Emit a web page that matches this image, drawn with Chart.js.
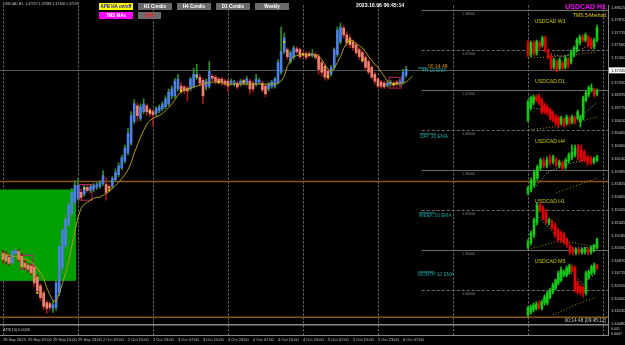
<!DOCTYPE html>
<html>
<head>
<meta charset="utf-8">
<title>USDCAD H1</title>
<script src="https://cdn.jsdelivr.net/npm/chart.js@4.4.0/dist/chart.umd.min.js"></script>
<style>
  html, body { margin: 0; padding: 0; background: #000; }
  #wrap { position: relative; width: 625px; height: 345px; overflow: hidden; background: #000; }
  #wrap canvas { position: absolute; }
</style>
</head>
<body>
<div id="wrap">
  <canvas id="main" width="625" height="345" style="left:0;top:0"></canvas>
</div>
<script>
// H1 candles, 28 Sep 23:00 -> 6 Oct 06:00
var opens = [1.34963, 1.34938, 1.34914, 1.34840, 1.34963, 1.34987, 1.34926, 1.34840, 1.34816, 1.34803,
  1.34791, 1.34668, 1.34558, 1.34472, 1.34349, 1.34337, 1.34276, 1.34288, 1.34472, 1.34779,
  1.35049, 1.35319, 1.35454, 1.35601, 1.35650, 1.35724, 1.35699, 1.35785, 1.35748, 1.35761,
  1.35785, 1.35797, 1.35834, 1.35822, 1.35797, 1.35797, 1.35883, 1.35945, 1.36030, 1.36116,
  1.36214, 1.36337, 1.36607, 1.36803, 1.36644, 1.36730, 1.36803, 1.36754, 1.36730, 1.36705,
  1.36742, 1.36767, 1.36791, 1.36828, 1.36926, 1.36926, 1.37012, 1.37049, 1.37037, 1.37024,
  1.37012, 1.37049, 1.37159, 1.37159, 1.37122, 1.37037, 1.37049, 1.37172, 1.37159, 1.37135,
  1.37135, 1.37110, 1.37110, 1.37086, 1.37073, 1.37086, 1.37073, 1.37110, 1.37086, 1.37110,
  1.37086, 1.37073, 1.37098, 1.37086, 1.37049, 1.37012, 1.37049, 1.37049, 1.37098, 1.37221,
  1.37478, 1.37503, 1.37356, 1.37405, 1.37515, 1.37503, 1.37454, 1.37454, 1.37454, 1.37429,
  1.37441, 1.37417, 1.37343, 1.37294, 1.37233, 1.37196, 1.37282, 1.37441, 1.37601, 1.37773,
  1.37687, 1.37650, 1.37601, 1.37564, 1.37503, 1.37466, 1.37405, 1.37356, 1.37282, 1.37196,
  1.37135, 1.37098, 1.37086, 1.37061, 1.37073, 1.37086, 1.37098, 1.37073, 1.37098, 1.37184];
var highs = [1.35000, 1.34987, 1.34951, 1.35049, 1.35037, 1.35012, 1.34963, 1.34889, 1.34840, 1.34828,
  1.34816, 1.34693, 1.34583, 1.34497, 1.34374, 1.34362, 1.34374, 1.34644, 1.35110, 1.35294,
  1.35454, 1.35626, 1.35773, 1.35871, 1.35895, 1.35761, 1.35810, 1.35810, 1.35822, 1.35834,
  1.35846, 1.35871, 1.35994, 1.35908, 1.35822, 1.35920, 1.36018, 1.36092, 1.36190, 1.36313,
  1.36521, 1.36730, 1.36877, 1.36840, 1.36828, 1.36889, 1.36828, 1.36779, 1.36754, 1.36791,
  1.36816, 1.36853, 1.36926, 1.37012, 1.37049, 1.37147, 1.37196, 1.37098, 1.37061, 1.37049,
  1.37159, 1.37270, 1.37319, 1.37196, 1.37147, 1.37135, 1.37356, 1.37196, 1.37184, 1.37159,
  1.37159, 1.37135, 1.37135, 1.37135, 1.37122, 1.37110, 1.37135, 1.37135, 1.37172, 1.37135,
  1.37110, 1.37196, 1.37147, 1.37110, 1.37073, 1.37098, 1.37122, 1.37159, 1.37380, 1.37785,
  1.37711, 1.37527, 1.37491, 1.37552, 1.37540, 1.37527, 1.37478, 1.37478, 1.37478, 1.37503,
  1.37466, 1.37441, 1.37368, 1.37319, 1.37257, 1.37307, 1.37527, 1.37785, 1.37834, 1.37810,
  1.37724, 1.37687, 1.37626, 1.37589, 1.37527, 1.37491, 1.37429, 1.37380, 1.37307, 1.37221,
  1.37159, 1.37122, 1.37110, 1.37110, 1.37122, 1.37110, 1.37122, 1.37135, 1.37257, 1.37294];
var lows = [1.34840, 1.34828, 1.34816, 1.34816, 1.34938, 1.34865, 1.34791, 1.34767, 1.34730, 1.34693,
  1.34546, 1.34460, 1.34374, 1.34264, 1.34214, 1.34251, 1.34227, 1.34251, 1.34435, 1.34742,
  1.35012, 1.35282, 1.35417, 1.35564, 1.35626, 1.35626, 1.35675, 1.35724, 1.35724, 1.35736,
  1.35761, 1.35773, 1.35810, 1.35626, 1.35748, 1.35773, 1.35859, 1.35920, 1.36006, 1.36092,
  1.36190, 1.36313, 1.36583, 1.36607, 1.36619, 1.36705, 1.36681, 1.36668, 1.36546, 1.36681,
  1.36718, 1.36742, 1.36767, 1.36803, 1.36889, 1.36902, 1.36988, 1.36963, 1.36951, 1.36865,
  1.36988, 1.37024, 1.37135, 1.37049, 1.36828, 1.37000, 1.37024, 1.37110, 1.37073, 1.37073,
  1.37061, 1.37049, 1.36975, 1.37061, 1.37049, 1.37012, 1.37049, 1.37061, 1.37061, 1.36951,
  1.36975, 1.37049, 1.37073, 1.36975, 1.36914, 1.36988, 1.37024, 1.37024, 1.37073, 1.37196,
  1.37454, 1.37380, 1.37331, 1.37380, 1.37454, 1.37392, 1.37417, 1.37380, 1.37405, 1.37405,
  1.37380, 1.37196, 1.37172, 1.37122, 1.37122, 1.37172, 1.37257, 1.37417, 1.37576, 1.37650,
  1.37552, 1.37527, 1.37491, 1.37441, 1.37380, 1.37343, 1.37245, 1.37196, 1.37135, 1.37073,
  1.37024, 1.37024, 1.37012, 1.37037, 1.37049, 1.37037, 1.37049, 1.37049, 1.37073, 1.37159];
var closes = [1.34889, 1.34865, 1.34840, 1.34987, 1.35000, 1.34889, 1.34816, 1.34791, 1.34767, 1.34718,
  1.34595, 1.34497, 1.34411, 1.34300, 1.34276, 1.34288, 1.34325, 1.34595, 1.35049, 1.35257,
  1.35392, 1.35564, 1.35724, 1.35810, 1.35810, 1.35662, 1.35785, 1.35748, 1.35797, 1.35810,
  1.35822, 1.35846, 1.35932, 1.35724, 1.35773, 1.35895, 1.35969, 1.36055, 1.36153, 1.36276,
  1.36460, 1.36681, 1.36828, 1.36681, 1.36791, 1.36828, 1.36730, 1.36705, 1.36693, 1.36767,
  1.36791, 1.36828, 1.36889, 1.36975, 1.37012, 1.37110, 1.37135, 1.36988, 1.36988, 1.36988,
  1.37135, 1.37196, 1.37196, 1.37086, 1.36926, 1.37110, 1.37233, 1.37147, 1.37110, 1.37098,
  1.37098, 1.37073, 1.37049, 1.37110, 1.37098, 1.37037, 1.37110, 1.37086, 1.37135, 1.37012,
  1.37012, 1.37135, 1.37122, 1.37000, 1.36951, 1.37073, 1.37098, 1.37135, 1.37343, 1.37478,
  1.37650, 1.37417, 1.37466, 1.37527, 1.37478, 1.37417, 1.37441, 1.37405, 1.37429, 1.37454,
  1.37405, 1.37257, 1.37221, 1.37159, 1.37159, 1.37282, 1.37503, 1.37748, 1.37785, 1.37687,
  1.37589, 1.37564, 1.37527, 1.37466, 1.37417, 1.37368, 1.37282, 1.37221, 1.37159, 1.37110,
  1.37049, 1.37049, 1.37037, 1.37086, 1.37098, 1.37061, 1.37073, 1.37110, 1.37221, 1.37257];

// 4H 10 EMA drawn on the H1 bars (two bars longer than the candles)
var ema = [1.34963, 1.34951, 1.34938, 1.34926, 1.34926, 1.34914, 1.34902, 1.34889, 1.34877, 1.34853,
  1.34816, 1.34779, 1.34718, 1.34644, 1.34534, 1.34448, 1.34374, 1.34362, 1.34460, 1.34583,
  1.34718, 1.34865, 1.35049, 1.35233, 1.35417, 1.35527, 1.35576, 1.35601, 1.35626, 1.35650,
  1.35662, 1.35662, 1.35687, 1.35711, 1.35736, 1.35773, 1.35810, 1.35846, 1.35895, 1.35945,
  1.36006, 1.36092, 1.36214, 1.36313, 1.36411, 1.36497, 1.36570, 1.36619, 1.36644, 1.36668,
  1.36681, 1.36705, 1.36742, 1.36779, 1.36828, 1.36877, 1.36938, 1.36975, 1.37000, 1.37012,
  1.37024, 1.37037, 1.37049, 1.37061, 1.37073, 1.37086, 1.37098, 1.37098, 1.37098, 1.37098,
  1.37086, 1.37086, 1.37073, 1.37073, 1.37073, 1.37073, 1.37073, 1.37073, 1.37073, 1.37073,
  1.37073, 1.37073, 1.37073, 1.37073, 1.37073, 1.37073, 1.37073, 1.37073, 1.37086, 1.37110,
  1.37172, 1.37294, 1.37380, 1.37417, 1.37429, 1.37441, 1.37441, 1.37441, 1.37441, 1.37441,
  1.37441, 1.37429, 1.37380, 1.37319, 1.37257, 1.37233, 1.37270, 1.37343, 1.37417, 1.37515,
  1.37589, 1.37626, 1.37613, 1.37576, 1.37552, 1.37527, 1.37478, 1.37417, 1.37368, 1.37319,
  1.37282, 1.37221, 1.37172, 1.37110, 1.37086, 1.37073, 1.37073, 1.37086, 1.37086, 1.37098,
  1.37135, 1.37172];

// bottom time labels, one every 8 bars
var timeLabels = ['28 Sep 2023', '29 Sep 07:00', '29 Sep 15:00', '29 Sep 23:00', '2 Oct 07:00', '2 Oct 15:00',
  '2 Oct 23:00', '3 Oct 07:00', '3 Oct 15:00', '3 Oct 23:00', '4 Oct 07:00', '4 Oct 15:00', '4 Oct 23:00',
  '5 Oct 07:00', '5 Oct 15:00', '5 Oct 23:00', '6 Oct 07:00'];
var priceTicks = [1.38025, 1.37870, 1.37715, 1.37560, 1.37400, 1.37090, 1.36935, 1.36775, 1.36620,
  1.36465, 1.36305, 1.36140, 1.35985, 1.35825, 1.35665, 1.35505, 1.35345, 1.35185, 1.35030, 1.34870,
  1.34715, 1.34555, 1.34400, 1.34240, 1.34080];
var bidPrice = 1.37245;

// yellow fractal dots
var dotBars = [6, 11, 26, 34, 47, 57, 62, 69, 77, 90, 96, 104, 111, 115, 125];
var dotPrices = [1.34803, 1.34472, 1.35773, 1.35748, 1.36730, 1.36988, 1.37172, 1.37098, 1.37110,
  1.37601, 1.37441, 1.37159, 1.37601, 1.37368, 1.37073];

// magenta boxes: first bar, last bar, top, bottom
var boxes = [[6, 9, 1.34938, 1.34767], [25, 28, 1.35822, 1.35626], [124, 127, 1.37159, 1.37024]];
// green zone: from bar, to bar, top, bottom
var zone = [-1, 23.4, 1.35760, 1.34620];
var roundLevels = [1.380, 1.375, 1.370, 1.365, 1.360, 1.355, 1.350, 1.345];
var weeklyLevels = [1.35859, 1.34165];

// small multi-timeframe charts: [open, high, low, close]
var w1Bars = [[1.3547,1.3581,1.3292,1.3326],[1.3326,1.3564,1.3292,1.3530],[1.3530,1.3564,1.3326,1.3360],
  [1.3360,1.3581,1.3326,1.3547],[1.3530,1.3564,1.3411,1.3462],[1.3496,1.3649,1.3462,1.3615],
  [1.3615,1.3649,1.3377,1.3411],[1.3394,1.3428,1.3258,1.3292],[1.3292,1.3326,1.3071,1.3105],
  [1.3122,1.3275,1.3088,1.3241],[1.3207,1.3241,1.3037,1.3071],[1.3105,1.3275,1.3071,1.3241],
  [1.3190,1.3224,1.3071,1.3105],[1.3122,1.3309,1.3088,1.3275],[1.3241,1.3275,1.3105,1.3156],
  [1.3207,1.3411,1.3173,1.3377],[1.3326,1.3479,1.3292,1.3445],[1.3411,1.3615,1.3377,1.3581],
  [1.3530,1.3666,1.3496,1.3632],[1.3632,1.3666,1.3547,1.3581],[1.3581,1.3700,1.3547,1.3666],
  [1.3632,1.3666,1.3462,1.3496],[1.3581,1.3615,1.3428,1.3462],[1.3462,1.3615,1.3428,1.3581],
  [1.3581,1.3836,1.3547,1.3785]];
var d1Bars = [[1.3433,1.3653,1.3411,1.3631],[1.3565,1.3697,1.3543,1.3675],[1.3620,1.3708,1.3598,1.3686],
  [1.3686,1.3708,1.3631,1.3653],[1.3697,1.3719,1.3598,1.3620],[1.3653,1.3675,1.3499,1.3521],
  [1.3598,1.3620,1.3499,1.3521],[1.3576,1.3598,1.3488,1.3510],[1.3543,1.3565,1.3433,1.3455],
  [1.3510,1.3532,1.3411,1.3433],[1.3466,1.3488,1.3378,1.3400],[1.3455,1.3477,1.3345,1.3378],
  [1.3400,1.3477,1.3378,1.3455],[1.3433,1.3455,1.3356,1.3378],[1.3400,1.3488,1.3378,1.3466],
  [1.3455,1.3477,1.3378,1.3400],[1.3411,1.3488,1.3389,1.3466],[1.3455,1.3477,1.3389,1.3411],
  [1.3455,1.3543,1.3433,1.3521],[1.3411,1.3488,1.3356,1.3466],[1.3455,1.3697,1.3433,1.3675],
  [1.3653,1.3752,1.3631,1.3730],[1.3708,1.3807,1.3686,1.3785],[1.3763,1.3829,1.3741,1.3785],
  [1.3763,1.3785,1.3686,1.3708],[1.3719,1.3774,1.3697,1.3752]];
var h4Bars = [[1.3593,1.3621,1.3585,1.3613],[1.3605,1.3653,1.3597,1.3645],[1.3625,1.3685,1.3617,1.3677],
  [1.3653,1.3705,1.3645,1.3697],[1.3693,1.3733,1.3685,1.3725],[1.3721,1.3733,1.3693,1.3701],
  [1.3701,1.3737,1.3693,1.3725],[1.3733,1.3745,1.3705,1.3713],[1.3717,1.3745,1.3709,1.3737],
  [1.3725,1.3733,1.3697,1.3705],[1.3701,1.3725,1.3693,1.3717],[1.3713,1.3721,1.3685,1.3693],
  [1.3697,1.3733,1.3689,1.3725],[1.3721,1.3753,1.3713,1.3745],[1.3733,1.3785,1.3725,1.3757],
  [1.3745,1.3785,1.3737,1.3773],[1.3781,1.3789,1.3725,1.3733],[1.3765,1.3785,1.3717,1.3725],
  [1.3757,1.3765,1.3717,1.3725],[1.3737,1.3745,1.3705,1.3713],[1.3733,1.3741,1.3705,1.3713],
  [1.3717,1.3737,1.3709,1.3729],[1.3725,1.3745,1.3717,1.3737]];
var h1Bars = [[1.3730,1.3740,1.3728,1.3737],[1.3736,1.3751,1.3733,1.3749],[1.3746,1.3768,1.3743,1.3766],
  [1.3762,1.3788,1.3759,1.3785],[1.3785,1.3788,1.3776,1.3779],[1.3781,1.3784,1.3766,1.3768],
  [1.3776,1.3779,1.3760,1.3763],[1.3762,1.3768,1.3759,1.3766],[1.3763,1.3766,1.3753,1.3755],
  [1.3759,1.3762,1.3743,1.3746],[1.3753,1.3755,1.3737,1.3740],[1.3749,1.3751,1.3737,1.3740],
  [1.3746,1.3749,1.3734,1.3737],[1.3740,1.3742,1.3730,1.3733],[1.3732,1.3734,1.3721,1.3724],
  [1.3728,1.3730,1.3720,1.3723],[1.3723,1.3729,1.3720,1.3727],[1.3727,1.3729,1.3720,1.3723],
  [1.3723,1.3729,1.3721,1.3727],[1.3724,1.3730,1.3721,1.3728],[1.3727,1.3729,1.3720,1.3723],
  [1.3724,1.3732,1.3721,1.3729],[1.3727,1.3734,1.3724,1.3733],[1.3730,1.3742,1.3728,1.3740]];
var m5Bars = [[1.37096,1.37132,1.37088,1.37124],[1.37108,1.37136,1.37100,1.37128],[1.37116,1.37144,1.37108,1.37136],
  [1.37124,1.37148,1.37116,1.37140],[1.37144,1.37152,1.37116,1.37124],[1.37124,1.37156,1.37116,1.37148],
  [1.37144,1.37176,1.37136,1.37168],[1.37144,1.37192,1.37136,1.37184],[1.37168,1.37204,1.37160,1.37196],
  [1.37188,1.37224,1.37180,1.37216],[1.37204,1.37240,1.37196,1.37236],[1.37224,1.37272,1.37216,1.37264],
  [1.37236,1.37288,1.37228,1.37276],[1.37256,1.37276,1.37248,1.37268],[1.37256,1.37292,1.37248,1.37284],
  [1.37268,1.37300,1.37260,1.37292],[1.37288,1.37296,1.37268,1.37276],[1.37284,1.37292,1.37188,1.37196],
  [1.37224,1.37232,1.37180,1.37188],[1.37208,1.37216,1.37176,1.37188],[1.37204,1.37212,1.37168,1.37184],
  [1.37184,1.37272,1.37176,1.37264],[1.37248,1.37276,1.37240,1.37268],[1.37264,1.37296,1.37256,1.37288],
  [1.37268,1.37304,1.37260,1.37296],[1.37292,1.37300,1.37276,1.37284]];

// dotted averages on the small charts: [bar, price]
var w1Fast = [[7,1.3360],[12,1.3292],[16,1.3360],[20,1.3462],[23,1.3530]];
var w1Slow = [[0,1.3275],[7,1.3292],[15,1.3326],[24,1.3377]];
var d1Fast = [[2,1.3565],[7,1.3543],[13,1.3433],[19,1.3466],[25,1.3631]];
var d1Slow = [[0,1.3323],[12,1.3367],[25,1.3466]];
var h4Fast = [[2,1.3613],[6,1.3673],[10,1.3697],[14,1.3713],[18,1.3725],[22,1.3733]];
var h4Slow = [[9,1.3593],[22,1.3653]];
var h1Fast = [[3,1.3772],[10,1.3742],[15,1.3729],[21,1.3730],[23,1.3733]];
var h1Slow = [[0,1.3727],[9,1.3737],[15,1.3736],[23,1.3730]];
var m5Fast = [[9,1.37184],[12,1.37256],[16,1.37264],[20,1.37216],[22,1.37244],[25,1.37264]];
var m5Slow = [[9,1.37096],[17,1.37136],[25,1.37168]];

document.addEventListener("DOMContentLoaded", function() {
    var FONT = '"Liberation Sans", Arial, sans-serif';
    function font(size, bold) { return (bold ? 'bold ' : '') + size + 'px ' + FONT; }

    function txt(c, s, x, y, f, color, align) {
        c.font = f; c.fillStyle = color; c.textAlign = align || 'left'; c.textBaseline = 'middle';
        c.fillText(s, x, y);
    }

    function btn(c, x, y, w, h, bg, fg, label) {
        c.fillStyle = bg; c.fillRect(x, y, w, h);
        txt(c, label, x + w / 2, y + h / 2 + 0.5, font(4.5, true), fg, 'center');
    }

    // price axis range (main window + ATR strip below it)
    var yMax = 1.38055, yMin = 1.33945;

    var bullBody = '#4b7fe0', bearBody = '#f2806e';
    var bodies = [], wicks = [], bodyColors = [], wickColors = [];
    for (var i = 0; i < opens.length; i++) {
        var up = closes[i] >= opens[i];
        bodies.push({ x: i, y: [opens[i], closes[i]] });
        wicks.push({ x: i, y: [lows[i], highs[i]] });
        bodyColors.push(up ? bullBody : bearBody);
        wickColors.push(up ? '#2f8f2f' : '#9e1a1a');
    }
    var emaPts = ema.map(function(v, k) { return { x: k, y: v }; });
    var dots = dotBars.map(function(b, k) { return { x: b, y: dotPrices[k] }; });

    var extras = {
        id: 'extras',
        beforeDraw: function(chart) {
            var c = chart.ctx;
            c.save(); c.fillStyle = '#000'; c.fillRect(0, 0, chart.width, chart.height); c.restore();
        },
        beforeDatasetsDraw: function(chart) {
            var c = chart.ctx, xs = chart.scales.x, ys = chart.scales.y, a = chart.chartArea;
            c.save();
            // dashed vertical grid, every 24 bars
            c.strokeStyle = '#7a7a7a'; c.lineWidth = 1; c.setLineDash([2, 2]);
            for (var g = 0; g <= 192; g += 24) {
                var gx = Math.round(xs.getPixelForValue(g)) + 0.5;
                c.beginPath(); c.moveTo(gx, a.top); c.lineTo(gx, a.bottom); c.stroke();
            }
            // round number levels on the right part
            var lx = xs.getPixelForValue(134);
            roundLevels.forEach(function(p, k) {
                var py = Math.round(ys.getPixelForValue(p)) + 0.5;
                c.strokeStyle = '#6e6e6e';
                c.setLineDash(k % 2 ? [3, 2] : []);
                c.beginPath(); c.moveTo(lx, py); c.lineTo(a.right, py); c.stroke();
                c.setLineDash([]);
                txt(c, p.toFixed(5), 462, py + 3, font(3.6), '#8a8a8a');
            });
            c.setLineDash([]);
            // bid line
            var by = Math.round(ys.getPixelForValue(bidPrice)) + 0.5;
            c.strokeStyle = '#555'; c.beginPath(); c.moveTo(a.left, by); c.lineTo(a.right, by); c.stroke();
            // weekly levels
            c.strokeStyle = '#8e5612'; c.lineWidth = 1.5;
            weeklyLevels.forEach(function(p) {
                var py = ys.getPixelForValue(p);
                c.beginPath(); c.moveTo(a.left, py); c.lineTo(a.right, py); c.stroke();
            });
            // green zone
            var zx0 = xs.getPixelForValue(zone[0]), zx1 = xs.getPixelForValue(zone[1]);
            var zy0 = ys.getPixelForValue(zone[2]), zy1 = ys.getPixelForValue(zone[3]);
            c.fillStyle = '#00a000'; c.fillRect(zx0, zy0, zx1 - zx0, zy1 - zy0);
            // magenta boxes
            c.strokeStyle = '#c0206e'; c.lineWidth = 1;
            boxes.forEach(function(b) {
                var bx0 = xs.getPixelForValue(b[0]) - 1.5, bx1 = xs.getPixelForValue(b[1]) + 1.5;
                var by0 = ys.getPixelForValue(b[2]), by1 = ys.getPixelForValue(b[3]);
                c.strokeRect(bx0, by0, bx1 - bx0, by1 - by0);
            });
            // ATR window separator
            c.fillStyle = '#8a8a8a'; c.fillRect(a.left, a.bottom - 11, a.right - a.left, 1.5);
            c.restore();
        },
        afterDraw: function(chart) {
            var c = chart.ctx, ys = chart.scales.y, a = chart.chartArea;
            c.save();
            // current bid tag on the price axis
            var by = ys.getPixelForValue(bidPrice);
            c.fillStyle = '#ffffff'; c.fillRect(a.right + 1, by - 3, 16, 6);
            txt(c, bidPrice.toFixed(5), a.right + 3, by + 0.3, font(4), '#000');
            // header
            txt(c, 'USDCAD,H1  1.37257 1.37388 1.37208 1.37259', 3, 4.5, font(3.5), '#c8c8c8');
            btn(c, 99, 3, 34, 7, '#ffff00', '#1010c0', 'APB HA on/off');
            btn(c, 138, 3, 34, 7, '#6c6c6c', '#ffffff', 'H1 Condis');
            btn(c, 177, 3, 34, 7, '#6c6c6c', '#ffffff', 'H4 Condis');
            btn(c, 216, 3, 34, 7, '#6c6c6c', '#ffffff', 'D1 Condis');
            btn(c, 255, 3, 34, 7, '#6c6c6c', '#ffffff', 'Weekly');
            btn(c, 99, 12, 34, 7, '#ff00ff', '#ffffff', 'TMS MAs');
            btn(c, 138, 12, 23, 7, '#6c6c6c', '#ff2020', 'SSR');
            txt(c, '2023.10.06 06:45:14', 356, 6, font(5.2, true), '#ffffff');
            txt(c, 'USDCAD H1', 606, 7.5, font(7, true), '#ff00ff', 'right');
            txt(c, 'TMS 5-Method', 606, 15.5, font(5), '#e8d000', 'right');
            // small chart titles
            [['USDCAD W1', 22], ['USDCAD D1', 82], ['USDCAD H4', 142], ['USDCAD H1', 202], ['USDCAD M5', 262]].forEach(function(t) {
                txt(c, t[0], 550, t[1], font(5.2), '#c8c800', 'center');
            });
            // timer and average labels
            c.fillStyle = '#1aa0a0'; c.fillRect(418, 67.5, 9, 1);
            txt(c, '00:14:48', 428, 67, font(5), '#d4901c');
            txt(c, '4H 10 EMA', 422, 71, font(4.8), '#1aa0a0');
            [['DAY 10 EMA', 420, 137], ['WEEK 10 EMA', 419, 216], ['MONTH 10 EMA', 418, 275]].forEach(function(t) {
                c.fillStyle = '#1aa0a0'; c.fillRect(t[1], t[2] - 3.5, 16, 0.8);
                txt(c, t[0], t[1], t[2], font(4.8), '#1aa0a0');
            });
            txt(c, '00:14:48 [09:45:12]', 606, 321, font(4.8), '#c8c8c8', 'right');
            // ATR strip
            txt(c, 'ATR(10) 0.0008', 3, 329.5, font(3.8), '#c8c8c8');
            txt(c, '0.001', a.right + 3, 329, font(3.6), '#c8c8c8');
            txt(c, '0.0007', a.right + 3, 333.5, font(3.6), '#c8c8c8');
            c.restore();
        }
    };

    new Chart(document.getElementById('main'), {
        type: 'bar',
        data: {
            datasets: [
                { type: 'scatter', data: dots, pointStyle: 'rect', pointRadius: 1.3, backgroundColor: '#e6e600', borderWidth: 0, order: 0 },
                { type: 'line', data: emaPts, borderColor: '#b09a1c', borderWidth: 1, pointRadius: 0, tension: 0, order: 1 },
                { data: bodies, backgroundColor: bodyColors, barThickness: 2, grouped: false, borderWidth: 0, order: 2 },
                { data: wicks, backgroundColor: wickColors, barThickness: 1, grouped: false, borderWidth: 0, order: 3 }
            ]
        },
        options: {
            responsive: false,
            animation: false,
            devicePixelRatio: 1,
            layout: { padding: 0, autoPadding: false },
            plugins: { legend: { display: false }, tooltip: { enabled: false } },
            scales: {
                x: {
                    type: 'linear', min: -0.96, max: 193.6, offset: false,
                    grid: { display: false, drawTicks: false, tickLength: 0 },
                    border: { display: true, color: '#8c8c8c' },
                    afterBuildTicks: function(s) { s.ticks = timeLabels.map(function(l, k) { return { value: k * 8 }; }); },
                    afterFit: function(s) { s.height = 10; },
                    ticks: {
                        autoSkip: false, maxRotation: 0, minRotation: 0, align: 'start', padding: 2,
                        color: '#c8c8c8', font: { size: 4, family: 'Liberation Sans' },
                        callback: function(v) { return timeLabels[Math.round(v / 8)]; }
                    }
                },
                y: {
                    position: 'right', min: yMin, max: yMax,
                    grid: { display: false, drawTicks: false, tickLength: 0 },
                    border: { display: true, color: '#8c8c8c' },
                    afterBuildTicks: function(s) { s.ticks = priceTicks.map(function(v) { return { value: v }; }); },
                    afterFit: function(s) { s.width = 17; },
                    ticks: {
                        autoSkip: false, padding: 3, color: '#c8c8c8', font: { size: 4, family: 'Liberation Sans' },
                        callback: function(v) { return Number(v).toFixed(5); }
                    }
                }
            }
        },
        plugins: [extras]
    });

    // small multi-timeframe charts on the right
    var miniFrames = [
        ['W1', 22, 52, 1.3887, 1.3003, w1Bars, w1Fast, w1Slow],
        ['D1', 82, 52, 1.3851, 1.3279, d1Bars, d1Fast, d1Slow],
        ['H4', 142, 56, 1.3797, 1.3573, h4Bars, h4Fast, h4Slow],
        ['H1', 200, 58, 1.37915, 1.37161, h1Bars, h1Fast, h1Slow],
        ['M5', 260, 60, 1.37316, 1.37076, m5Bars, m5Fast, m5Slow]
    ];
    var wrap = document.getElementById('wrap');
    miniFrames.forEach(function(f) {
        var cv = document.createElement('canvas');
        cv.width = 78; cv.height = f[2];
        cv.style.left = '524px'; cv.style.top = f[1] + 'px';
        wrap.appendChild(cv);
        var bars = f[5];
        var step = 69 / (bars.length - 1);
        var xMin = -4 / step;
        var colors = bars.map(function(b) { return b[3] >= b[0] ? '#18c818' : '#e00000'; });
        new Chart(cv, {
            type: 'bar',
            data: {
                datasets: [
                    { type: 'line', data: f[6].map(function(p) { return { x: p[0], y: p[1] }; }), borderColor: '#bdbdbd', borderWidth: 1, borderDash: [1, 2], pointRadius: 0, order: 2 },
                    { type: 'line', data: f[7].map(function(p) { return { x: p[0], y: p[1] }; }), borderColor: '#a88e14', borderWidth: 1, borderDash: [1, 2], pointRadius: 0, order: 3 },
                    { data: bars.map(function(b, k) { return { x: k, y: [b[0], b[3]] }; }), backgroundColor: colors, barThickness: 2, grouped: false, borderWidth: 0, order: 0 },
                    { data: bars.map(function(b, k) { return { x: k, y: [b[2], b[1]] }; }), backgroundColor: colors, barThickness: 1, grouped: false, borderWidth: 0, order: 1 }
                ]
            },
            options: {
                responsive: false, animation: false, devicePixelRatio: 1,
                layout: { padding: 0, autoPadding: false },
                plugins: { legend: { display: false }, tooltip: { enabled: false } },
                scales: {
                    x: { type: 'linear', display: false, offset: false, min: xMin, max: xMin + 78 / step },
                    y: { display: false, min: f[4], max: f[3] }
                }
            }
        });
    });
});
</script>
</body>
</html>
